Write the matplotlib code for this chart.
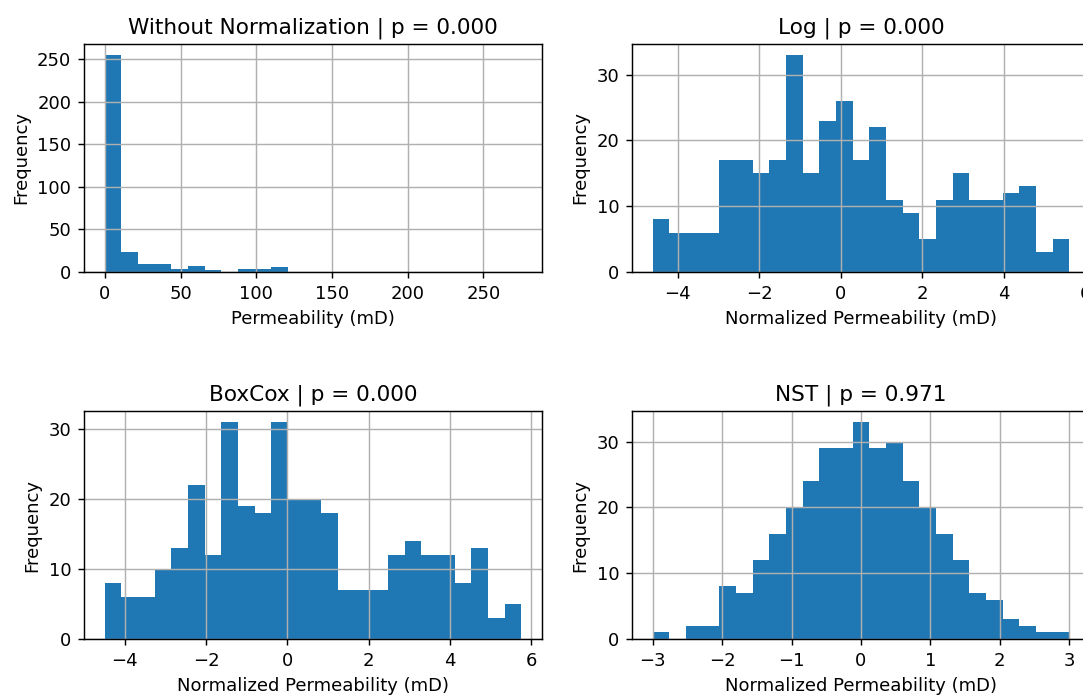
import numpy as np
import matplotlib
matplotlib.use("Agg")
import matplotlib.pyplot as plt

# counts per bin (25 bins each)
raw_range = (0.0, 275.0)
raw_counts = [255, 23, 9, 9, 4, 7, 2, 0, 3, 3, 6, 0, 0, 0, 0,
              0, 0, 0, 0, 0, 0, 0, 0, 0, 0]

log_range = (-4.61, 5.60)
log_counts = [8, 6, 6, 6, 17, 17, 15, 17, 33, 15, 23, 26, 17,
              22, 11, 9, 5, 11, 15, 11, 11, 12, 13, 3, 5]

boxcox_range = (-4.49, 5.75)
boxcox_counts = [8, 6, 6, 10, 13, 22, 12, 31, 19, 18, 31, 20, 20,
                 18, 7, 7, 7, 12, 14, 12, 12, 8, 13, 3, 5]

nst_range = (-3.0, 3.0)
nst_counts = [1, 0, 2, 2, 8, 7, 12, 16, 20, 24, 29, 29, 33,
              29, 30, 24, 20, 16, 12, 7, 6, 3, 2, 1, 1]

titles = ["Without Normalization | p = 0.000", "Log | p = 0.000",
          "BoxCox | p = 0.000", "NST | p = 0.971"]
xlabels = ["Permeability (mD)", "Normalized Permeability (mD)",
           "Normalized Permeability (mD)", "Normalized Permeability (mD)"]

W, H = 1083, 695
DPI = 130
fig = plt.figure(figsize=(W / DPI, H / DPI), dpi=DPI)

# axes boxes in pixels: left, top, width, height
boxes = [(84, 44, 458, 228), (632, 44, 458, 228),
         (84, 411, 458, 228), (632, 411, 458, 228)]

data = [(raw_range, raw_counts), (log_range, log_counts),
        (boxcox_range, boxcox_counts), (nst_range, nst_counts)]

for (rng, counts), box, title, xl in zip(data, boxes, titles, xlabels):
    l, t, w, h = box
    ax = fig.add_axes([l / W, 1 - (t + h) / H, w / W, h / H])
    edges = np.linspace(rng[0], rng[1], len(counts) + 1)
    centers = (edges[:-1] + edges[1:]) / 2
    ax.hist(centers, bins=edges, weights=counts, color="#1f77b4")
    ax.grid(True)
    ax.set_title(title)
    ax.set_xlabel(xl)
    ax.set_ylabel("Frequency")

fig.savefig("out.png", dpi=DPI)
